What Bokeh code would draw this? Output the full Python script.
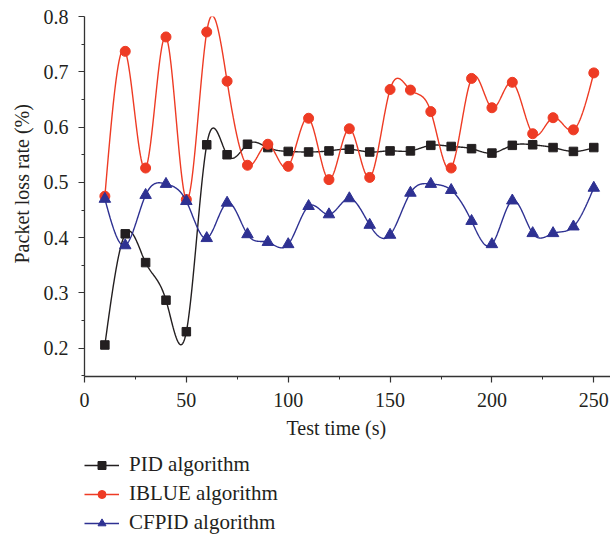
import numpy as np
from bokeh.plotting import figure
from bokeh.layouts import column
from bokeh.models import Range1d, FixedTicker, Legend, LegendItem, Title
from bokeh.embed import file_html
from bokeh.resources import INLINE

# ---- data ----
test_time = [10, 20, 30, 40, 50, 60, 70, 80, 90, 100, 110, 120, 130, 140, 150,
             160, 170, 180, 190, 200, 210, 220, 230, 240, 250]
pid = [0.206, 0.407, 0.355, 0.287, 0.230, 0.568, 0.550, 0.569, 0.563, 0.556,
       0.555, 0.557, 0.560, 0.555, 0.557, 0.557, 0.567, 0.565, 0.561, 0.553,
       0.567, 0.568, 0.563, 0.556, 0.563]
iblue = [0.475, 0.737, 0.526, 0.763, 0.469, 0.772, 0.683, 0.531, 0.569, 0.529,
         0.616, 0.505, 0.597, 0.509, 0.668, 0.667, 0.628, 0.526, 0.688, 0.635,
         0.681, 0.588, 0.617, 0.595, 0.698]
cfpid = [0.470, 0.386, 0.477, 0.497, 0.466, 0.399, 0.463, 0.406, 0.392, 0.388,
         0.457, 0.442, 0.471, 0.423, 0.405, 0.481, 0.497, 0.486, 0.430, 0.388,
         0.467, 0.408, 0.408, 0.420, 0.490]
series_names = ["PID algorithm", "IBLUE algorithm", "CFPID algorithm"]
x_ticks = [0, 50, 100, 150, 200, 250]
x_minor = [25, 75, 125, 175, 225]
y_ticks = [0.2, 0.3, 0.4, 0.5, 0.6, 0.7, 0.8]
y_minor = [0.15, 0.25, 0.35, 0.45, 0.55, 0.65, 0.75]

FONT = "Liberation Serif"
FS = "20px"
TXT = "#231f20"


def natural_spline(x, y, n=40):
    """Smooth connecting curve (natural cubic spline) through the points."""
    x = np.asarray(x, float)
    y = np.asarray(y, float)
    m = len(x)
    h = np.diff(x)
    A = np.zeros((m, m))
    b = np.zeros(m)
    A[0, 0] = A[-1, -1] = 1.0
    for i in range(1, m - 1):
        A[i, i - 1] = h[i - 1]
        A[i, i] = 2 * (h[i - 1] + h[i])
        A[i, i + 1] = h[i]
        b[i] = 6 * ((y[i + 1] - y[i]) / h[i] - (y[i] - y[i - 1]) / h[i - 1])
    M = np.linalg.solve(A, b)
    xs, ys = [], []
    for i in range(m - 1):
        t = np.linspace(x[i], x[i + 1], n, endpoint=(i == m - 2))
        a = x[i + 1] - t
        c = t - x[i]
        s = (M[i] * a ** 3 + M[i + 1] * c ** 3) / (6 * h[i]) \
            + (y[i] / h[i] - M[i] * h[i] / 6) * a \
            + (y[i + 1] / h[i] - M[i + 1] * h[i] / 6) * c
        xs.extend(t)
        ys.extend(s)
    return xs, ys


p = figure(frame_width=526, frame_height=360,
           min_border_left=83, min_border_right=1, min_border_top=16,
           min_border_bottom=77,
           x_range=Range1d(0, 258.2), y_range=Range1d(0.149, 0.8),
           output_backend="svg", toolbar_location=None)
p.outline_line_color = None
p.xgrid.visible = False
p.ygrid.visible = False

for ax in (p.xaxis[0], p.yaxis[0]):
    ax.axis_line_color = "#333333"
    ax.axis_line_width = 1.3
    ax.major_tick_line_color = "#333333"
    ax.minor_tick_line_color = "#333333"
    ax.major_tick_line_width = 1.2
    ax.minor_tick_line_width = 1.0
    ax.major_tick_out = 6
    ax.major_tick_in = 0
    ax.minor_tick_out = 3
    ax.minor_tick_in = 0
    ax.major_label_text_font = FONT
    ax.major_label_text_font_size = FS
    ax.major_label_text_color = TXT
    ax.major_label_standoff = 10

p.xaxis.ticker = FixedTicker(ticks=x_ticks, minor_ticks=x_minor)
p.yaxis.ticker = FixedTicker(ticks=y_ticks, minor_ticks=y_minor)
p.yaxis.major_label_overrides = {v: f"{v:.1f}" for v in y_ticks}

p.add_layout(Title(text="Test time (s)", align="left", offset=202,
                   standoff=10, text_font=FONT, text_font_size=FS,
                   text_font_style="normal", text_color=TXT), "below")
p.add_layout(Title(text="Packet loss rate (%)", align="left", offset=113,
                   standoff=16, text_font=FONT, text_font_size=FS,
                   text_font_style="normal", text_color=TXT), "left")

colors = ["#231f20", "#ee3b24", "#2e3192"]
markers = ["square", "circle", "triangle"]
sizes = [8.5, 10, 11.5]
legend_sizes = [7.5, 9, 11]
series = [pid, iblue, cfpid]
for ys, col, mk, sz in zip(series, colors, markers, sizes):
    sx, sy = natural_spline(test_time, ys)
    p.line(sx, sy, line_color=col, line_width=1.4)
    p.scatter(test_time, ys, marker=mk, size=sz, fill_color=col,
              line_color=col)

# ---- legend strip underneath (series kept out of its view) ----
q = figure(width=610, height=86, min_border=0, x_range=Range1d(0, 1),
           y_range=Range1d(2, 3), output_backend="svg",
           toolbar_location=None)
q.axis.visible = False
q.grid.visible = False
q.outline_line_color = None
items = []
for name, ys, col, mk, sz in zip(series_names, series, colors, markers,
                                 legend_sizes):
    lr = q.line(test_time, ys, line_color=col, line_width=1.4)
    sr = q.scatter(test_time, ys, marker=mk, size=sz, fill_color=col,
                   line_color=col)
    items.append(LegendItem(label=name, renderers=[lr, sr]))
legend = Legend(items=items, location=(0, 4), orientation="vertical",
                label_text_font=FONT, label_text_font_size="21px",
                label_text_color=TXT,
                glyph_width=35, glyph_height=20, label_height=20,
                spacing=4, label_standoff=10, padding=0, margin=0,
                border_line_color=None, background_fill_alpha=0)
q.add_layout(legend)

open("out.html", "w").write(file_html(column(p, q, spacing=0), INLINE))
